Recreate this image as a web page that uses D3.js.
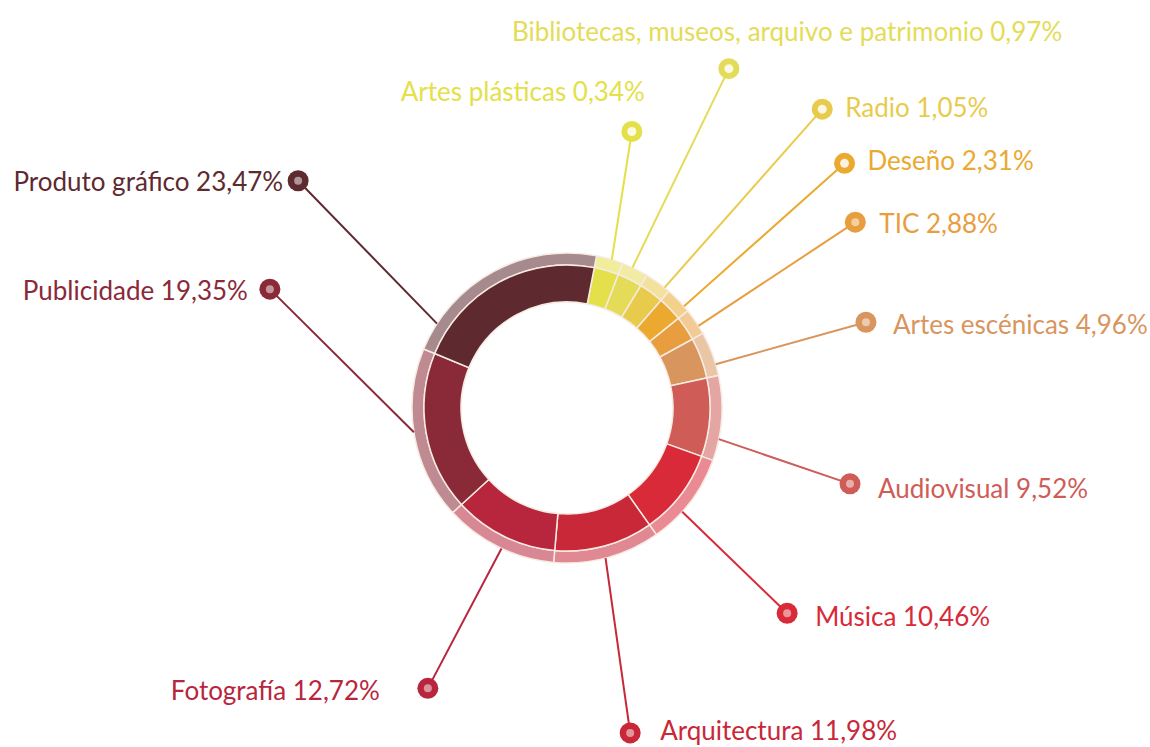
<!DOCTYPE html>
<html lang="gl">
<head>
    <meta charset="UTF-8">
    <title>Distribución por subsectores</title>
    <script src="https://d3js.org/d3.v7.min.js"></script>
    <style>
        html, body {
            margin: 0;
            padding: 0;
            background: #fff;
        }
        .label {
            font-family: Lato, "Open Sans", sans-serif;
            font-size: 26px;
        }
    </style>
</head>
<body>
    <div id="chart"></div>

    <script>
        // Data: share of each subsector (%)
        const categories = [
            "Artes plásticas",
            "Bibliotecas, museos, arquivo e patrimonio",
            "Radio",
            "Deseño",
            "TIC",
            "Artes escénicas",
            "Audiovisual",
            "Música",
            "Arquitectura",
            "Fotografía",
            "Publicidade",
            "Produto gráfico"
        ];
        const shares = [0.34, 0.97, 1.05, 2.31, 2.88, 4.96, 9.52, 10.46, 11.98, 12.72, 19.35, 23.47];
        const colors = [
            "#e4e04a", "#e4dc58", "#e8cb4c", "#eba930", "#e89e3e", "#d9955e",
            "#cf5c57", "#d82a38", "#c82838", "#b8263e", "#8a2a38", "#5e2a2f"
        ];

        // Label layout (polar position of each marker around the ring, in degrees / px)
        const markerAngle = [13.2, 25.5, 40.5, 48.6, 57.2, 74, 105, 133, 169, 206.4, 291.8, 310.2];
        const markerRadius = [284, 376, 393, 370, 343, 311, 293, 301, 331, 313, 320, 352];
        const anchorAngle = [16.8, 25, 39, 49, 58, 73.6, 101.6, 132, 165.6, 205, 261, 303];
        const labelDx = [13, -217, 23, 23, 24, 27, 28, 28, 30, -48, -22, -15];
        const labelDy = [-31, -28, 8, 7, 11, 12, 14, 13, 7, 12, 11, 10];
        const labelAnchor = ["end", "start", "start", "start", "start", "start", "start", "start", "start", "end", "end", "end"];

        const width = 1150, height = 747;
        const cx = 567, cy = 408;
        const innerR = 106, midR = 143, outerR = 155;
        const rad = d => d * Math.PI / 180;

        const locale = d3.formatLocale({decimal: ",", thousands: ".", grouping: [3], currency: ["", "€"]});
        const fmt = locale.format(".2f");

        const data = categories.map((c, i) => ({name: c, value: shares[i], color: colors[i], i}));

        const svg = d3.select("#chart")
            .append("svg")
                .attr("width", width)
                .attr("height", height);

        const g = svg.append("g")
            .attr("transform", `translate(${cx},${cy})`);

        // tiny slices get a minimum width so they stay visible
        const pie = d3.pie()
            .sort(null)
            .value(d => Math.max(d.value, 3))
            .startAngle(rad(11))
            .endAngle(rad(11) + 2 * Math.PI);

        const arcs = pie(data);
        const innerArc = d3.arc().innerRadius(innerR).outerRadius(midR);
        const outerArc = d3.arc().innerRadius(midR).outerRadius(outerR);
        const tint = (c, t) => d3.interpolateRgb(c, "#fff")(t);

        g.selectAll(".outer")
            .data(arcs)
            .join("path")
            .attr("class", "outer")
            .attr("d", outerArc)
            .attr("fill", d => tint(d.data.color, 0.45))
            .attr("stroke", "#f6ebe2")
            .attr("stroke-width", 1.5);

        g.selectAll(".inner")
            .data(arcs)
            .join("path")
            .attr("class", "inner")
            .attr("d", innerArc)
            .attr("fill", d => d.data.color)
            .attr("stroke", "#f6ebe2")
            .attr("stroke-width", 1.5);

        // leader lines, markers and labels
        const markerPos = d => d3.pointRadial(rad(markerAngle[d.i]), markerRadius[d.i]);
        const anchorPos = d => d3.pointRadial(rad(anchorAngle[d.i]), outerR);

        const labels = g.selectAll(".lbl")
            .data(data)
            .join("g")
            .attr("class", "lbl");

        labels.append("line")
            .attr("x1", d => anchorPos(d)[0])
            .attr("y1", d => anchorPos(d)[1])
            .attr("x2", d => markerPos(d)[0])
            .attr("y2", d => markerPos(d)[1])
            .attr("stroke", d => d.color)
            .attr("stroke-width", 2);

        labels.append("circle")
            .attr("cx", d => markerPos(d)[0])
            .attr("cy", d => markerPos(d)[1])
            .attr("r", 10.5)
            .attr("fill", d => d.color);

        labels.append("circle")
            .attr("cx", d => markerPos(d)[0])
            .attr("cy", d => markerPos(d)[1])
            .attr("r", d => d.i < 4 ? 4.5 : 4)
            .attr("fill", d => tint(d.color, d.i < 4 ? 0.85 : 0.5));

        labels.append("text")
            .attr("class", "label")
            .attr("x", d => markerPos(d)[0] + labelDx[d.i])
            .attr("y", d => markerPos(d)[1] + labelDy[d.i])
            .attr("text-anchor", d => labelAnchor[d.i])
            .attr("fill", d => d.color)
            .text(d => `${d.name} ${fmt(d.value)}%`);
    </script>
</body>
</html>
